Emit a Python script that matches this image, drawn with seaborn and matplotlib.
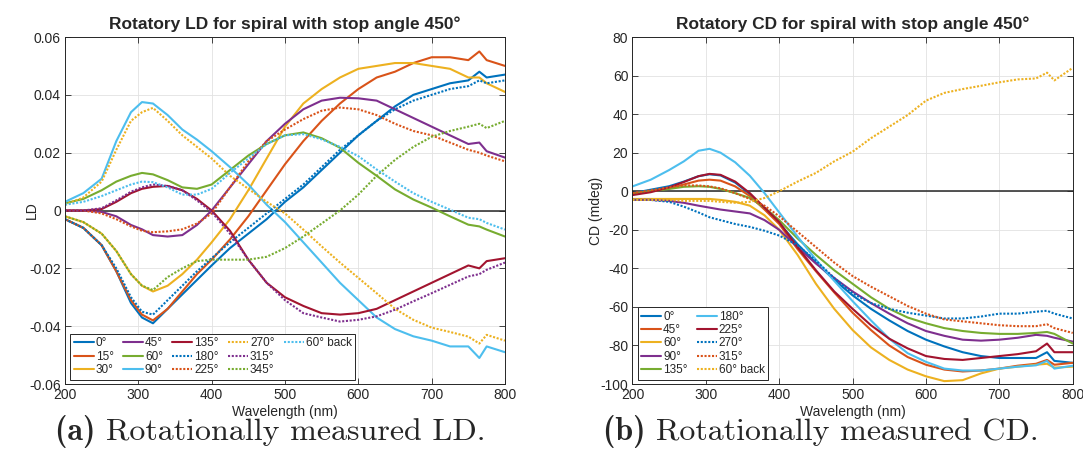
import numpy as np
import pandas as pd
import matplotlib
matplotlib.use("Agg")
import matplotlib.pyplot as plt
from matplotlib.lines import Line2D
from matplotlib.ticker import FuncFormatter
import seaborn as sns

# ---------------- data ----------------
wavelength = [200, 225, 250, 270, 290, 305, 320, 340, 360, 380, 400, 425, 450, 475,
              500, 525, 550, 575, 600, 625, 650, 675, 700, 725, 750, 765, 775, 800]

# Linear dichroism (LD) at each rotation angle
ld_labels = ["0°", "15°", "30°", "45°", "60°", "90°", "135°",
             "180°", "225°", "270°", "315°", "345°", "60° back"]
ld_0 = [-0.003, -0.006, -0.012, -0.021, -0.032, -0.037, -0.039, -0.034, -0.029, -0.024, -0.019, -0.013, -0.008, -0.003,
        0.003, 0.008, 0.014, 0.020, 0.026, 0.031, 0.036, 0.040, 0.042, 0.044, 0.045, 0.048, 0.046, 0.047]
ld_15 = [-0.003, -0.006, -0.012, -0.021, -0.031, -0.036, -0.038, -0.034, -0.028, -0.022, -0.017, -0.010, -0.002, 0.007,
         0.016, 0.024, 0.031, 0.037, 0.042, 0.046, 0.048, 0.051, 0.053, 0.053, 0.052, 0.055, 0.052, 0.050]
ld_30 = [-0.002, -0.004, -0.008, -0.014, -0.022, -0.026, -0.028, -0.026, -0.022, -0.017, -0.011, -0.003, 0.007, 0.018,
         0.029, 0.037, 0.042, 0.046, 0.049, 0.050, 0.051, 0.051, 0.050, 0.049, 0.046, 0.046, 0.044, 0.041]
ld_45 = [0.000, 0.000, -0.0005, -0.002, -0.005, -0.0065, -0.0085, -0.009, -0.0085, -0.005, 0.000, 0.008, 0.016, 0.024,
         0.030, 0.035, 0.038, 0.039, 0.0388, 0.038, 0.035, 0.032, 0.029, 0.026, 0.023, 0.0235, 0.0205, 0.0183]
ld_60 = [0.0025, 0.004, 0.007, 0.010, 0.012, 0.013, 0.0125, 0.0105, 0.008, 0.0075, 0.009, 0.014, 0.019, 0.023,
         0.026, 0.027, 0.025, 0.0217, 0.0165, 0.012, 0.0073, 0.0038, 0.001, -0.002, -0.0049, -0.0055, -0.0066, -0.009]
ld_90 = [0.003, 0.006, 0.011, 0.024, 0.034, 0.0375, 0.037, 0.033, 0.028, 0.0245, 0.0205, 0.015, 0.009, 0.002,
         -0.004, -0.011, -0.018, -0.025, -0.031, -0.037, -0.041, -0.0435, -0.045, -0.047, -0.047, -0.051, -0.047, -0.049]
ld_135 = [0.000, 0.000, 0.0005, 0.003, 0.006, 0.0075, 0.0082, 0.0085, 0.007, 0.004, 0.000, -0.007, -0.017, -0.025,
          -0.030, -0.033, -0.0355, -0.036, -0.0355, -0.034, -0.031, -0.028, -0.025, -0.022, -0.019, -0.020, -0.0175, -0.0165]
ld_180 = [-0.003, -0.006, -0.012, -0.020, -0.030, -0.035, -0.036, -0.031, -0.026, -0.021, -0.0165, -0.011, -0.006, -0.001,
          0.004, 0.009, 0.015, 0.021, 0.026, 0.031, 0.035, 0.038, 0.040, 0.042, 0.043, 0.045, 0.044, 0.045]
ld_225 = [0.000, 0.000, -0.001, -0.003, -0.0055, -0.007, -0.0075, -0.0072, -0.0065, -0.0045, -0.001, 0.008, 0.017, 0.024,
          0.028, 0.0316, 0.0345, 0.0356, 0.035, 0.033, 0.030, 0.0275, 0.026, 0.0235, 0.021, 0.020, 0.019, 0.017]
ld_270 = [0.002, 0.0045, 0.010, 0.021, 0.031, 0.034, 0.0355, 0.031, 0.026, 0.022, 0.018, 0.012, 0.0075, 0.003,
          -0.001, -0.0066, -0.0124, -0.018, -0.0233, -0.0286, -0.034, -0.0378, -0.0405, -0.042, -0.0436, -0.046, -0.043, -0.045]
ld_315 = [0.000, 0.000, 0.0008, 0.0035, 0.0065, 0.008, 0.009, 0.0085, 0.007, 0.0035, -0.0005, -0.008, -0.017, -0.025,
          -0.031, -0.0355, -0.037, -0.0384, -0.0378, -0.0366, -0.0343, -0.0314, -0.0286, -0.0257, -0.0228, -0.022, -0.0205, -0.018]
ld_345 = [-0.002, -0.004, -0.008, -0.014, -0.022, -0.026, -0.0275, -0.023, -0.020, -0.0175, -0.017, -0.017, -0.017, -0.016,
          -0.013, -0.009, -0.0045, 0.000, 0.0055, 0.012, 0.0175, 0.022, 0.0255, 0.0275, 0.029, 0.030, 0.0285, 0.031]
ld_60_back = [0.002, 0.003, 0.005, 0.007, 0.009, 0.010, 0.0098, 0.008, 0.0055, 0.0055, 0.0075, 0.013, 0.018, 0.023,
              0.026, 0.0264, 0.0246, 0.022, 0.0188, 0.0142, 0.010, 0.006, 0.003, 0.0003, -0.0025, -0.003, -0.0043, -0.0066]

# Circular dichroism (CD, mdeg) at each rotation angle
cd_labels = ["0°", "45°", "60°", "90°", "135°", "180°", "225°", "270°", "315°", "60° back"]
cd_0 = [-1, 0.8, 2.6, 5, 7.8, 8.8, 8.2, 4.5, -1.5, -9, -16.5, -27.5, -37, -46,
        -54, -61, -67, -72.5, -77, -80.5, -83.5, -85.5, -86.5, -86.5, -86.5, -83.5, -88, -89]
cd_45 = [-1, 0, 1.5, 3.5, 5.5, 6, 5.5, 2.5, -2.5, -9.5, -17, -30, -41.5, -52.5,
         -63, -72, -80, -86, -90, -92.5, -93.5, -93, -92, -90.5, -89.5, -87.5, -90, -89]
cd_60 = [-4, -4, -4, -4, -4, -4, -4.5, -5.5, -7.5, -12.5, -20, -33, -48, -61,
         -72, -81, -87.5, -92.5, -96, -98.5, -98, -94.5, -92, -91, -90, -89.5, -91.5, -91]
cd_90 = [-4.5, -4.5, -5, -6, -7.5, -8.5, -9.5, -10.5, -11.5, -15, -20, -29, -37.5, -45,
         -52, -58, -63.5, -68.5, -72.5, -75, -77, -77.5, -77, -76, -74.5, -75, -76, -78]
cd_135 = [-1.5, 0, 1.2, 2.3, 2.6, 2.3, 1.2, -1, -3.5, -8.5, -15, -24.5, -33, -41,
          -48, -55, -61, -65.5, -68.5, -71, -72.5, -73.5, -74, -74, -73.5, -73, -74, -79]
cd_180 = [2.5, 6, 11, 15.5, 21, 22, 20, 15, 8, -1, -11, -23.5, -35.5, -46.5,
          -57, -67, -76.5, -84, -88.5, -92, -93, -93, -92, -91, -90.3, -88, -92, -90.5]
cd_225 = [-2, -0.5, 2, 4.8, 7.8, 9, 8.5, 5, -1, -8.5, -16, -29, -41, -52,
          -61, -69.5, -76.5, -81.5, -85.5, -87, -87.5, -86.5, -85.5, -84.5, -83, -79, -83.5, -83.5]
cd_270 = [-4.5, -4.5, -5.5, -8, -11, -13.5, -15, -17, -18.5, -20.5, -23, -28, -36, -45,
          -53, -58, -61, -63, -64.5, -66, -66, -65, -63.5, -63.5, -62.5, -62, -63.5, -66]
cd_315 = [-1, 0.5, 2, 3, 3, 2.5, 1.5, -1, -4, -7.5, -13, -21, -29, -37,
          -44, -49.5, -54.5, -59.5, -63.5, -66.5, -67.5, -68.5, -69.5, -70, -70, -69, -71, -73.5]
cd_60_back = [-4.5, -4.5, -4.5, -5, -5, -5, -5.5, -6, -5.5, -3.5, 0, 5, 9.5, 15.5,
              20.5, 27.5, 33.5, 39.5, 47, 51, 53, 54.7, 56.5, 58, 58.5, 61.5, 57.5, 64]

ld_series = [ld_0, ld_15, ld_30, ld_45, ld_60, ld_90, ld_135,
             ld_180, ld_225, ld_270, ld_315, ld_345, ld_60_back]
cd_series = [cd_0, cd_45, cd_60, cd_90, cd_135, cd_180, cd_225, cd_270, cd_315, cd_60_back]

# ---------------- style ----------------
BLUE, ORANGE, YELLOW, PURPLE = "#0072BD", "#D95319", "#EDB120", "#7E2F8E"
GREEN, CYAN, RED = "#77AC30", "#4DBEEE", "#A2142F"
DOT = (0, (1.0, 0.8))
INK = "#262626"

ld_colors = [BLUE, ORANGE, YELLOW, PURPLE, GREEN, CYAN, RED,
             BLUE, ORANGE, YELLOW, PURPLE, GREEN, CYAN]
ld_styles = ["-"] * 7 + [DOT] * 6
cd_colors = [BLUE, ORANGE, YELLOW, PURPLE, GREEN, CYAN, RED, BLUE, ORANGE, YELLOW]
cd_styles = ["-"] * 7 + [DOT] * 3

sns.set_theme(style="white")
plt.rcParams.update({
    "font.family": ["Liberation Sans", "DejaVu Sans"],
    "axes.unicode_minus": False,
    "axes.edgecolor": INK,
    "axes.linewidth": 0.7,
    "xtick.color": INK,
    "ytick.color": INK,
    "xtick.direction": "in",
    "ytick.direction": "in",
    "xtick.top": True,
    "ytick.right": True,
    "xtick.bottom": True,
    "ytick.left": True,
    "xtick.major.size": 4,
    "ytick.major.size": 4,
    "xtick.major.width": 0.6,
    "ytick.major.width": 0.6,
    "xtick.labelsize": 10,
    "ytick.labelsize": 10,
    "xtick.major.pad": 3,
    "ytick.major.pad": 3,
})

fig = plt.figure(figsize=(10.83, 4.72), dpi=100)
ax_ld = fig.add_axes([0.0600, 0.1864, 0.4063, 0.7352])
ax_cd = fig.add_axes([0.5840, 0.1864, 0.4065, 0.7352])

LW = 1.5


def draw(ax, series, labels, colors, styles):
    frames = []
    for vals, lab in zip(series, labels):
        frames.append(pd.DataFrame({"wavelength": wavelength, "value": vals, "angle": lab}))
    df = pd.concat(frames, ignore_index=True)
    for lab, col, ls in zip(labels, colors, styles):
        sub = df[df["angle"] == lab]
        sns.lineplot(data=sub, x="wavelength", y="value", ax=ax, color=col,
                     linestyle=ls, linewidth=LW, legend=False, estimator=None)
    ax.axhline(0, color=INK, lw=1.1, zorder=1.5)
    ax.set_xlim(200, 800)
    ax.set_xticks(range(200, 801, 100))
    ax.grid(True, color="#e2e2e2", lw=0.6)
    ax.set_axisbelow(True)
    ax.set_xlabel("Wavelength (nm)", fontsize=10, color=INK, labelpad=2)
    handles = [Line2D([], [], color=c, ls=s, lw=LW) for c, s in zip(colors, styles)]
    return handles


h_ld = draw(ax_ld, ld_series, ld_labels, ld_colors, ld_styles)
ax_ld.set_ylim(-0.06, 0.06)
ax_ld.set_yticks([-0.06, -0.04, -0.02, 0, 0.02, 0.04, 0.06])
ax_ld.yaxis.set_major_formatter(FuncFormatter(lambda v, p: "%g" % round(v, 3)))
ax_ld.set_ylabel("LD", fontsize=10, color=INK)
ax_ld.yaxis.set_label_coords(-0.06, 0.5)
ax_ld.set_title("Rotatory LD for spiral with stop angle 450°", fontsize=12.5,
                fontweight="bold", pad=6)

# pad the fifth column so the entries fill the columns 3-3-3-3-1
blank = Line2D([], [], color="none")
leg_ld = ax_ld.legend(h_ld + [blank, blank], ld_labels + ["", ""], ncol=5,
                      loc="lower left", bbox_to_anchor=(0.012, 0.012),
                      fontsize=8.5, frameon=True, fancybox=False, edgecolor=INK,
                      framealpha=1, handlelength=1.7, handletextpad=0.15,
                      columnspacing=0.8, labelspacing=0.12, borderpad=0.3,
                      borderaxespad=0)
leg_ld.get_frame().set_linewidth(0.7)

h_cd = draw(ax_cd, cd_series, cd_labels, cd_colors, cd_styles)
ax_cd.set_ylim(-100, 80)
ax_cd.set_yticks(range(-100, 81, 20))
ax_cd.set_ylabel("CD (mdeg)", fontsize=10, color=INK)
ax_cd.yaxis.set_label_coords(-0.067, 0.5)
ax_cd.set_title("Rotatory CD for spiral with stop angle 450°", fontsize=12.5,
                fontweight="bold", pad=6)
leg_cd = ax_cd.legend(h_cd, cd_labels, ncol=2, loc="lower left",
                      bbox_to_anchor=(0.012, 0.012), fontsize=8.5, frameon=True,
                      fancybox=False, edgecolor=INK, framealpha=1,
                      handlelength=1.7, handletextpad=0.15, columnspacing=0.8,
                      labelspacing=0.12, borderpad=0.3, borderaxespad=0)
leg_cd.get_frame().set_linewidth(0.7)

# sub-figure captions
for xc, tag, text in [(270 / 1083, "(a)", "Rotationally measured LD."),
                      (821 / 1083, "(b)", "Rotationally measured CD.")]:
    t1 = fig.text(0, 0.085, tag + " ", fontsize=23, family="cmb10", va="center")
    t2 = fig.text(0, 0.085, text, fontsize=23, family="cmr10", va="center")
    fig.canvas.draw()
    r = fig.canvas.get_renderer()
    w1 = t1.get_window_extent(r).width / fig.bbox.width
    w2 = t2.get_window_extent(r).width / fig.bbox.width
    x0 = xc - (w1 + w2) / 2
    t1.set_x(x0)
    t2.set_x(x0 + w1)

fig.savefig("out.png", dpi=100)
